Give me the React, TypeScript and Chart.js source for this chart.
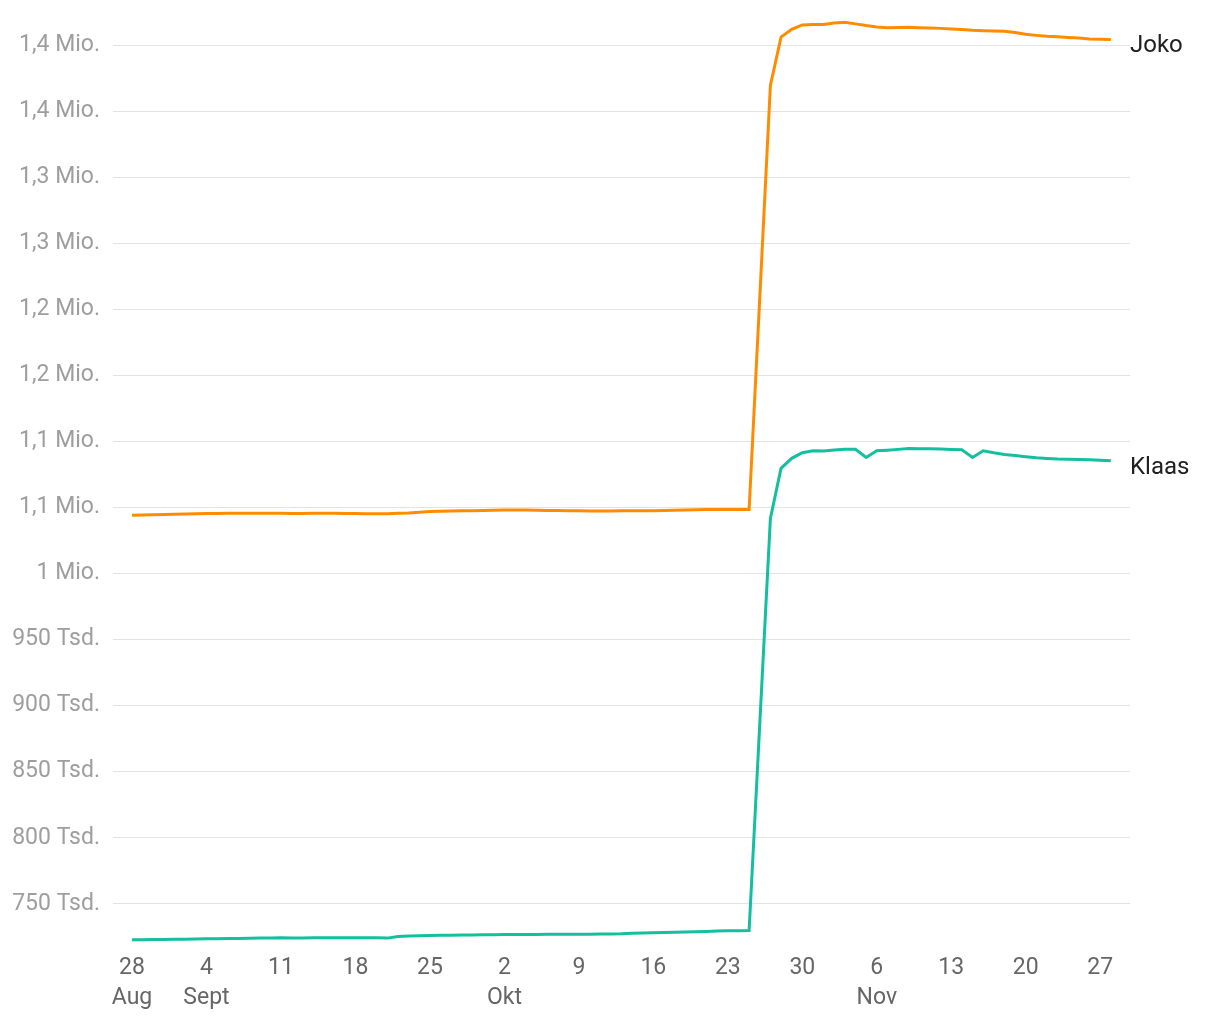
import React, { useEffect, useRef } from "react";
import { Chart, registerables } from "chart.js";

Chart.register(...registerables);

// Day index 0 = 28 Aug, 92 = 28 Nov (daily values, thousands of viewers)
const startLabels: string[][] = [
  ["28", "Aug"], ["4", "Sept"], ["11"], ["18"], ["25"], ["2", "Okt"], ["9"],
  ["16"], ["23"], ["30"], ["6", "Nov"], ["13"], ["20"], ["27"],
];
const tickDays: number[] = [0, 7, 14, 21, 28, 35, 42, 49, 56, 63, 70, 77, 84, 91];
const yTicks: number[] = [750, 800, 850, 900, 950, 1000, 1050, 1100, 1150, 1200, 1250, 1300, 1350, 1400];

const seriesNames: string[] = ["Joko", "Klaas"];

const joko: number[] = [
  1044.3, 1044.4, 1044.5, 1044.7, 1044.9, 1045.1, 1045.3, 1045.5, 1045.6, 1045.7,
  1045.8, 1045.8, 1045.8, 1045.8, 1045.7, 1045.6, 1045.6, 1045.7, 1045.7, 1045.7,
  1045.6, 1045.6, 1045.4, 1045.3, 1045.4, 1045.7, 1046.0, 1046.5, 1047.0, 1047.2,
  1047.4, 1047.6, 1047.7, 1047.9, 1048.0, 1048.1, 1048.1, 1048.1, 1048.0, 1047.9,
  1047.8, 1047.7, 1047.6, 1047.5, 1047.5, 1047.5, 1047.6, 1047.7, 1047.7, 1047.7,
  1047.8, 1048.0, 1048.2, 1048.4, 1048.5, 1048.6, 1048.6, 1048.6, 1048.5, 1208.6,
  1369.7, 1406.3, 1412.2, 1415.5, 1415.9, 1415.9, 1417.0, 1417.6, 1416.3, 1415.0,
  1414.0, 1413.4, 1413.6, 1413.7, 1413.4, 1413.2, 1412.9, 1412.5, 1412.0, 1411.4,
  1411.1, 1410.9, 1410.8, 1409.8, 1408.4, 1407.6, 1406.9, 1406.5, 1406.0, 1405.6,
  1404.9, 1404.7, 1404.5,
];

const klaas: number[] = [
  722.7, 722.8, 722.9, 723.0, 723.1, 723.2, 723.4, 723.5, 723.6, 723.7,
  723.8, 723.9, 724.0, 724.1, 724.2, 724.1, 724.1, 724.2, 724.2, 724.2,
  724.2, 724.2, 724.2, 724.3, 724.0, 725.2, 725.6, 725.8, 726.0, 726.1,
  726.2, 726.3, 726.4, 726.5, 726.6, 726.7, 726.7, 726.8, 726.8, 726.9,
  726.9, 727.0, 727.0, 727.0, 727.1, 727.2, 727.3, 727.6, 727.8, 728.0,
  728.3, 728.5, 728.7, 728.9, 729.1, 729.3, 729.5, 729.6, 729.7, 885.8,
  1041.8, 1079.7, 1087.3, 1091.6, 1093.0, 1092.8, 1093.6, 1094.1, 1094.1, 1088.0,
  1093.0, 1093.5, 1094.1, 1094.8, 1094.6, 1094.5, 1094.3, 1094.0, 1093.8, 1088.0,
  1093.0, 1091.5, 1090.3, 1089.5, 1088.6, 1087.7, 1087.2, 1086.8, 1086.6, 1086.4,
  1086.2, 1085.9, 1085.4,
];

const colors: string[] = ["#ff8c00", "#12bf9f"];

const fmt = new Intl.NumberFormat("de-DE", { maximumFractionDigits: 1 });
function yLabel(vk: number): string {
  if (vk >= 1000) return fmt.format(vk / 1000) + " Mio.";
  return fmt.format(vk) + " Tsd.";
}

const endLabelPlugin = {
  id: "endLabels",
  afterDatasetsDraw(chart: any) {
    const ctx = chart.ctx;
    ctx.save();
    ctx.font = "24px Roboto";
    ctx.fillStyle = "#212121";
    ctx.textAlign = "left";
    ctx.textBaseline = "middle";
    chart.data.datasets.forEach((ds: any, i: number) => {
      const meta = chart.getDatasetMeta(i);
      const pt = meta.data[meta.data.length - 1];
      if (!pt) return;
      ctx.fillText(ds.label, chart.chartArea.right, pt.y + 7);
    });
    ctx.restore();
  },
};

export default function App() {
  const ref = useRef<HTMLCanvasElement | null>(null);
  useEffect(() => {
    if (!ref.current) return;
    const series = [joko, klaas];
    const chart = new Chart(ref.current, {
      type: "line",
      data: {
        datasets: series.map((s, i) => ({
          label: seriesNames[i],
          data: s.map((v, d) => ({ x: d, y: v * 1000 })),
          borderColor: colors[i],
          backgroundColor: colors[i],
          borderWidth: 3,
          pointRadius: 0,
          tension: 0,
          fill: false,
        })),
      },
      options: {
        animation: false,
        responsive: true,
        maintainAspectRatio: false,
        layout: { padding: { top: 19, right: 90, left: 0, bottom: 0 } },
        plugins: { legend: { display: false }, tooltip: { enabled: false } },
        scales: {
          x: {
            type: "linear",
            min: -1.13,
            max: 93.8,
            afterBuildTicks: (scale: any) => {
              scale.ticks = tickDays.map((v) => ({ value: v }));
            },
            afterFit: (scale: any) => {
              scale.height = 70;
              scale.paddingLeft = 0;
              scale.paddingRight = 0;
            },
            grid: { display: false, drawTicks: false },
            border: { display: false },
            ticks: {
              autoSkip: false,
              maxRotation: 0,
              padding: 3,
              color: "#666666",
              font: { family: "Roboto", size: 23, lineHeight: 1.3 },
              callback: (v: any) => {
                const idx = tickDays.indexOf(Number(v));
                return idx >= 0 ? startLabels[idx] : "";
              },
            },
          },
          y: {
            type: "linear",
            min: 715000,
            max: 1420000,
            afterBuildTicks: (scale: any) => {
              scale.ticks = yTicks.map((v) => ({ value: v * 1000 }));
            },
            afterFit: (scale: any) => {
              scale.width = 120;
              scale.paddingTop = 0;
              scale.paddingBottom = 0;
            },
            grid: { color: "#e3e3e3", lineWidth: 1, tickLength: 7, drawTicks: true },
            border: { display: false },
            ticks: {
              padding: 13,
              color: "#9e9e9e",
              font: { family: "Roboto", size: 23 },
              callback: (v: any) => yLabel(Number(v) / 1000),
            },
          },
        },
      },
      plugins: [endLabelPlugin],
    });
    return () => chart.destroy();
  }, []);
  return (
    <div style={{ position: "absolute", left: 0, top: 0, width: 1220, height: 1020, background: "#fff" }}>
      <canvas ref={ref} />
    </div>
  );
}
